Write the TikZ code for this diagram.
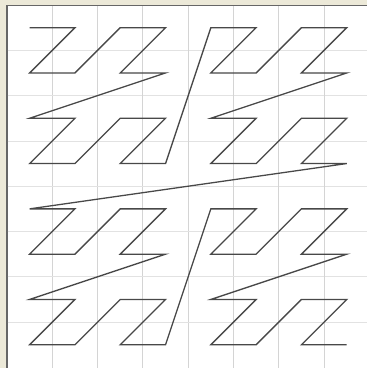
\documentclass[tikz,border=0pt]{standalone}
\usetikzlibrary{calc}
\definecolor{deskbg}{HTML}{ECE9D8}
\definecolor{gridgray}{HTML}{D4D4D4}
\definecolor{gridgraylight}{HTML}{E2E2E2}
\definecolor{curvegray}{HTML}{484848}

\begin{document}
\begin{tikzpicture}[
    x=1pt, y=1pt,
    panel/.style={fill=white, draw=black!60, line width=1pt},
    gridline/.style={draw=gridgray, line width=0.8pt},
    gridlinelight/.style={draw=gridgraylight, line width=0.8pt},
    zline/.style={draw=curvegray, line width=1.3pt, line join=miter}
]
\useasboundingbox (0,0) rectangle (367,368);
\fill[deskbg] (0,0) rectangle (367,368);
\begin{scope}
\clip (0,0) rectangle (367,368);
\draw[panel] (7,-1) rectangle (369.4,363);
% cell borders
\foreach \k in {1,...,7} {
  \draw[gridline] (7+45.3*\k,0) -- (7+45.3*\k,362.5);
  \draw[gridlinelight] (7.5,363-45.3*\k) -- (367,363-45.3*\k);
}
\end{scope}
% points of the Z-order curve, cell centres
\foreach \i in {0,...,63} {
  \pgfmathtruncatemacro\cx{mod(\i,2)+2*mod(floor(\i/4),2)+4*mod(floor(\i/16),2)}
  \pgfmathtruncatemacro\cy{mod(floor(\i/2),2)+2*mod(floor(\i/8),2)+4*mod(floor(\i/32),2)}
  \coordinate (p\i) at (7+45.3*\cx+22.65, 363-45.3*\cy-22.65);
}
\draw[zline] (p0) \foreach \i in {1,...,63} { -- (p\i) };
\end{tikzpicture}
\end{document}
